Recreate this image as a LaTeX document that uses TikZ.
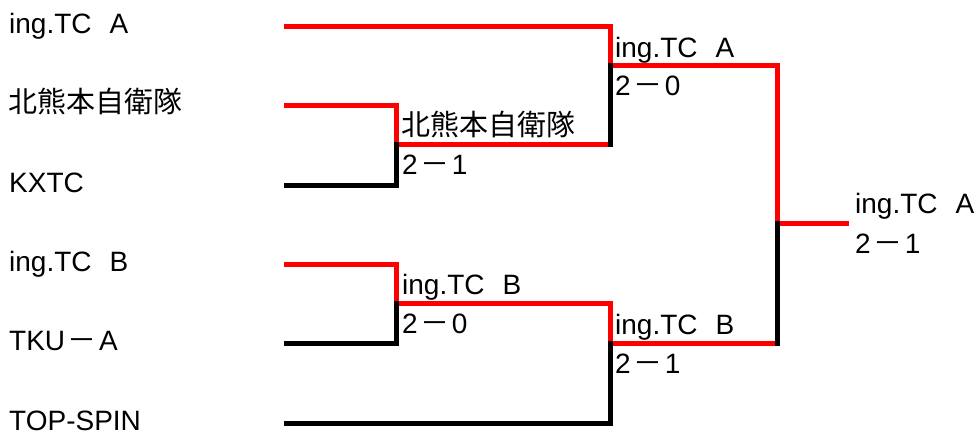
\documentclass[tikz,border=0pt]{standalone}
\usepackage{fontspec}
\setmainfont{Liberation Sans}
\newfontfamily\jp[Scale=1.035]{Noto Sans CJK JP}
\newcommand{\zs}{\hspace{0.64em}}
\newcommand{\zd}{\hspace{2.5pt}{\jp －}\hspace{2.5pt}}

\begin{document}
\begin{tikzpicture}[x=1pt,y=-1pt,
  win/.style={line width=5pt,red},
  lose/.style={line width=5pt,black,shorten >=-2.5pt},
  team/.style={anchor=base west,inner sep=0pt,font=\fontsize{28}{34}\selectfont}]

  \useasboundingbox (0,0) rectangle (979,434);

  % Define the columns of the bracket
  \def\xl{284}
  \def\xa{396}
  \def\xb{610}
  \def\xc{777}
  \def\xd{849}

  % Draw the entrants
  \node[team] (tA)   at (9,33)  {ing.TC\zs A};
  \node[team] (kita) at (8,112) {\jp 北熊本自衛隊};
  \node[team] (kxtc) at (9,192) {KXTC};
  \node[team] (tB)   at (9,271) {ing.TC\zs B};
  \node[team] (tku)  at (9,350) {TKU\zd A};
  \node[team] (tops) at (9,430) {TOP-SPIN};

  % Ends of the first lines
  \coordinate (eA) at (\xl,26);
  \coordinate (eB) at (\xl,105);
  \coordinate (eC) at (\xl,185);
  \coordinate (eD) at (\xl,264);
  \coordinate (eE) at (\xl,343);
  \coordinate (eF) at (\xl,423);

  % Match points
  \coordinate (m1) at (\xa,144);
  \coordinate (m2) at (\xa,303);
  \coordinate (m3) at (\xb,65);
  \coordinate (m4) at (\xb,343);
  \coordinate (m5) at (\xc,223);
  \coordinate (champ) at (\xd,223);

  % Draw the winners
  \draw[win] (eB) -| (m1) -- (m1 -| m3);
  \draw[win] (eD) -| (m2) -- (m2 -| m4) -- (m4) -- (m4 -| m5);
  \draw[win] (eA) -| (m3) -- (m3 -| m5) -- (m5) -- (champ);

  % Draw the losers
  \draw[lose] (eC) -| (m1);
  \draw[lose] (eE) -| (m2);
  \draw[lose] (eF) -| (m4);
  \draw[lose,shorten <=-2.5pt] (m1 -| m3) -- (m3);
  \draw[lose,shorten <=-2.5pt] (m4 -| m5) -- (m5);

  % Winners and scores
  \node[team] (w1) at (401,135) {\jp 北熊本自衛隊};
  \node[team] (s1) at (402,174) {2\zd 1};
  \node[team] (w2) at (402,294) {ing.TC\zs B};
  \node[team] (s2) at (402,333) {2\zd 0};
  \node[team] (w3) at (615,57)  {ing.TC\zs A};
  \node[team] (s3) at (615,95)  {2\zd 0};
  \node[team] (w4) at (615,334) {ing.TC\zs B};
  \node[team] (s4) at (615,373) {2\zd 1};
  \node[team] (w5) at (855,213) {ing.TC\zs A};
  \node[team] (s5) at (855,253) {2\zd 1};

\end{tikzpicture}
\end{document}
